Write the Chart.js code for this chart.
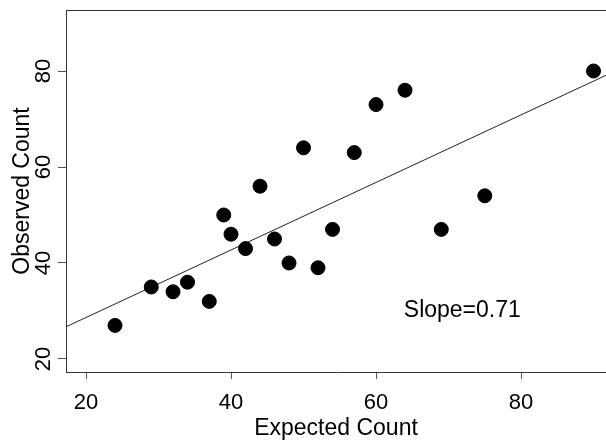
<!DOCTYPE html>
<html>
<head>
<meta charset="utf-8">
<script src="https://cdn.jsdelivr.net/npm/chart.js@4/dist/chart.umd.min.js"></script>
<style>
  html, body { margin: 0; padding: 0; background: #ffffff; }
  #wrap { width: 606px; height: 444px; }
</style>
</head>
<body>
<div id="wrap"><canvas id="c" width="606" height="444"></canvas></div>
<script>
// Data
const expected = [24, 29, 32, 34, 37, 39, 40, 42, 44, 46, 48, 50, 52, 54, 57, 60, 64, 69, 75, 90];
const observed = [27, 35, 34, 36, 32, 50, 46, 43, 56, 45, 40, 64, 39, 47, 63, 73, 76, 47, 54, 80];
// Fitted line endpoints (read at the plot edges)
const fitX = [17.24, 91.72];
const fitY = [26.7, 79.1];
const xTicks = [20, 40, 60, 80];
const yTicks = [20, 40, 60, 80];
const xRange = [17.24, 91.72];
const yRange = [17.29, 92.71];
const noteText = 'Slope=0.71';
const notePos = [71.9, 30.0];

const FONT = "'Liberation Sans', Arial, sans-serif";

const points = expected.map((x, i) => ({ x: x, y: observed[i] }));
const fitLine = fitX.map((x, i) => ({ x: x, y: fitY[i] }));

const extras = {
  id: 'extras',
  afterDraw(chart) {
    const ctx = chart.ctx;
    const a = chart.chartArea;
    const ys = chart.scales.y;
    const xs = chart.scales.x;
    ctx.save();
    // top box line
    ctx.strokeStyle = '#333333';
    ctx.lineWidth = 1;
    ctx.beginPath();
    ctx.moveTo(a.left, a.top + 0.5);
    ctx.lineTo(a.right, a.top + 0.5);
    ctx.stroke();
    // rotated y tick labels
    ctx.fillStyle = '#000000';
    ctx.font = '22px ' + FONT;
    ctx.textAlign = 'center';
    ctx.textBaseline = 'alphabetic';
    yTicks.forEach(v => {
      const py = ys.getPixelForValue(v);
      ctx.save();
      ctx.translate(50, py);
      ctx.rotate(-Math.PI / 2);
      ctx.fillText(String(v), 0, 0);
      ctx.restore();
    });
    // annotation
    ctx.font = '23px ' + FONT;
    ctx.textAlign = 'center';
    ctx.textBaseline = 'middle';
    ctx.fillText(noteText, xs.getPixelForValue(notePos[0]), ys.getPixelForValue(notePos[1]));
    ctx.restore();
  }
};

new Chart(document.getElementById('c'), {
  type: 'scatter',
  data: {
    datasets: [
      {
        type: 'line',
        data: fitLine,
        borderColor: '#222222',
        borderWidth: 1,
        pointRadius: 0,
        fill: false,
        tension: 0,
        order: 2
      },
      {
        data: points,
        backgroundColor: '#000000',
        borderColor: '#000000',
        pointRadius: 7,
        pointHoverRadius: 7,
        order: 1
      }
    ]
  },
  options: {
    responsive: false,
    animation: false,
    events: [],
    layout: { autoPadding: false, padding: { top: 10, left: 0, right: 0, bottom: 0 } },
    plugins: { legend: { display: false }, tooltip: { enabled: false } },
    scales: {
      x: {
        type: 'linear',
        min: xRange[0],
        max: xRange[1],
        afterFit(s) { s.height = 72; },
        afterBuildTicks(s) { s.ticks = xTicks.map(v => ({ value: v })); },
        ticks: {
          includeBounds: false,
          color: '#000000',
          font: { family: FONT, size: 22 },
          padding: 11,
          maxRotation: 0,
          autoSkip: false
        },
        grid: { drawOnChartArea: false, drawTicks: true, tickLength: 7, color: '#555555' },
        border: { display: true, color: '#333333', width: 1 },
        title: {
          display: true,
          text: 'Expected Count',
          color: '#000000',
          font: { family: FONT, size: 23 },
          padding: { top: 0, bottom: 2 }
        }
      },
      y: {
        type: 'linear',
        min: yRange[0],
        max: yRange[1],
        afterFit(s) { s.width = 66; },
        afterBuildTicks(s) { s.ticks = yTicks.map(v => ({ value: v })); },
        ticks: { display: false, includeBounds: false },
        grid: { drawOnChartArea: false, drawTicks: true, tickLength: 8, color: '#555555' },
        border: { display: true, color: '#333333', width: 1 },
        title: {
          display: true,
          text: 'Observed Count',
          color: '#000000',
          font: { family: FONT, size: 23 },
          padding: { top: 9, bottom: 0 }
        }
      }
    }
  },
  plugins: [extras]
});
</script>
</body>
</html>
